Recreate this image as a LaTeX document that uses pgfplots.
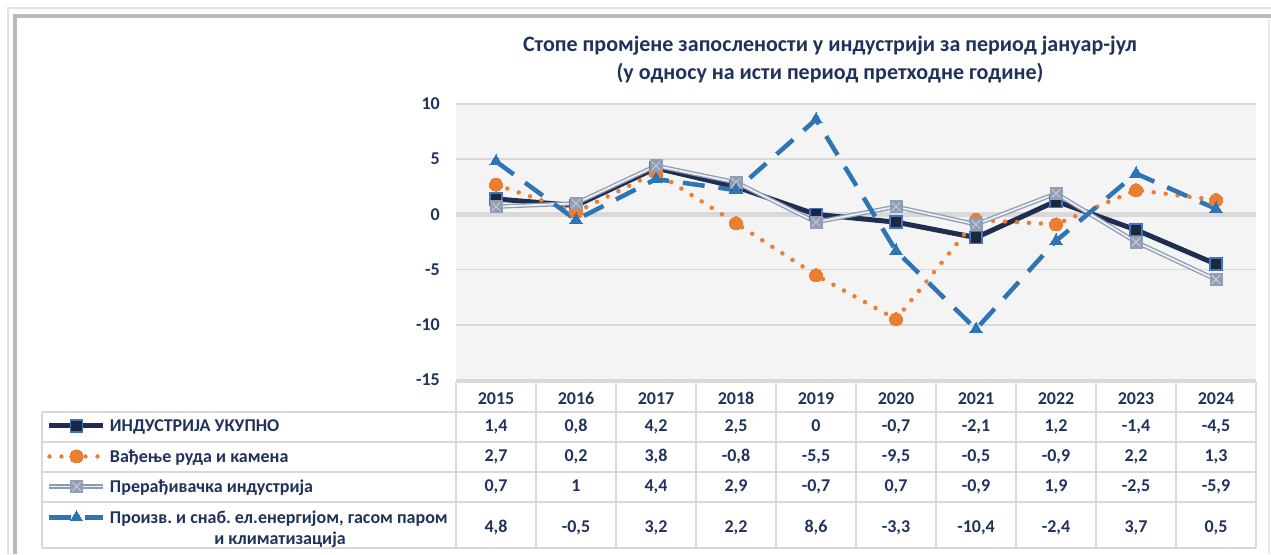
\documentclass[border=0pt]{standalone}
\usepackage{fontspec}
\setmainfont{Carlito}
\usepackage{pgfplots}
\usepackage{pgfplotstable}
\pgfplotsset{compat=1.18}
\frenchspacing

\definecolor{txt}{RGB}{31,50,92}
\definecolor{navy}{RGB}{31,45,80}
\definecolor{navyfill}{RGB}{30,40,60}
\definecolor{mblue}{RGB}{68,114,196}
\definecolor{orng}{RGB}{237,125,49}
\definecolor{gline}{RGB}{140,155,180}
\definecolor{gmark}{RGB}{145,158,180}
\definecolor{eblue}{RGB}{46,117,182}
\definecolor{gridc}{RGB}{217,217,217}
\definecolor{bgc}{RGB}{244,244,244}

% square with a light cross, as in the gray series
\pgfdeclareplotmark{sqx}{%
  \pgfpathrectangle{\pgfqpoint{-\pgfplotmarksize}{-\pgfplotmarksize}}%
    {\pgfqpoint{2\pgfplotmarksize}{2\pgfplotmarksize}}%
  \pgfusepathqfillstroke
  \begin{pgfscope}
    \pgfsetstrokecolor{white!55!gmark}\pgfsetlinewidth{0.8pt}%
    \pgfpathmoveto{\pgfqpoint{-0.7\pgfplotmarksize}{-0.7\pgfplotmarksize}}%
    \pgfpathlineto{\pgfqpoint{0.7\pgfplotmarksize}{0.7\pgfplotmarksize}}%
    \pgfpathmoveto{\pgfqpoint{-0.7\pgfplotmarksize}{0.7\pgfplotmarksize}}%
    \pgfpathlineto{\pgfqpoint{0.7\pgfplotmarksize}{-0.7\pgfplotmarksize}}%
    \pgfusepathqstroke
  \end{pgfscope}}

% x: 0 = 2015 ... 9 = 2024
\pgfplotstableread{
x s1 s2 s3 s4
0 1.4 2.7 0.7 4.8
1 0.8 0.2 1 -0.5
2 4.2 3.8 4.4 3.2
3 2.5 -0.8 2.9 2.2
4 0 -5.5 -0.7 8.6
5 -0.7 -9.5 0.7 -3.3
6 -2.1 -0.5 -0.9 -10.4
7 1.2 -0.9 1.9 -2.4
8 -1.4 2.2 -2.5 3.7
9 -4.5 1.3 -5.9 0.5
}\data

\begin{document}
\begin{tikzpicture}[font=\fontsize{18}{21}\selectfont\bfseries, text=txt]
\useasboundingbox (0,0) rectangle (1271pt,554pt);
\begin{axis}[
  at={(456pt,174pt)}, anchor=south west,
  width=800pt, height=276pt, scale only axis,
  xmin=-0.5, xmax=9.5, ymin=-15, ymax=10,
  axis line style={draw=none},
  major tick length=0pt,
  xtick={0,...,9},
  xticklabels={2015,2016,2017,2018,2019,2020,2021,2022,2023,2024},
  xticklabel style={anchor=base, yshift=-24pt},
  ytick={-15,-10,-5,5,10},
  yticklabels={-15,-10,-5,5,10},
  extra y ticks={0}, extra y tick labels={0},
  extra y tick style={grid style={draw=gridc, line width=5pt}},
  yticklabel style={anchor=east, inner sep=0pt, xshift=-16pt},
  ymajorgrids, grid style={draw=gridc, line width=1.6pt},
  axis background/.style={fill=bgc},
  clip=false,
  legend image code/.code={\draw[mark repeat=2, mark phase=2, yshift=2pt, #1] plot coordinates {(0pt,0pt) (27pt,0pt) (54pt,0pt)};},
  legend style={at={(-0.51125,-0.1449)}, anchor=north west, draw=none, fill=none,
    inner sep=0pt, outer sep=0pt, row sep=14pt,
    nodes={inner sep=0pt, text height=12pt, text depth=4pt},
    /tikz/every odd column/.append style={column sep=4pt}},
  legend cell align=left,
]
\addplot[navy, line width=5pt, mark=square*, mark size=6pt,
  mark options={solid, fill=navyfill, draw=mblue, line width=1.3pt}]
  table[x=x, y=s1]{\data};
\addlegendentry{ИНДУСТРИЈА УКУПНО}
\addplot[orng, line width=4.5pt, line cap=round, dash pattern=on 0pt off 12pt,
  mark=*, mark size=6.5pt, mark options={solid, fill=orng, draw=orng, line width=0pt}]
  table[x=x, y=s2]{\data};
\addlegendentry{Вађење руда и камена}
\addplot[draw=gline, line width=1.3pt, double=white!85!gline, double distance=1.8pt,
  mark=sqx, mark size=6pt, mark options={solid, fill=gmark, draw=gmark, line width=0.8pt}]
  table[x=x, y=s3]{\data};
\addlegendentry{Прерађивачка индустрија}
\addplot[eblue, line width=4.5pt, dash pattern=on 22pt off 14pt,
  mark=triangle*, mark size=7pt, mark options={solid, fill=eblue, draw=eblue, line width=0pt}]
  table[x=x, y=s4]{\data};
\addlegendentry{Произв. и снаб. ел.енергијом, гасом паром}
\end{axis}

\begin{scope}[x=1pt, y=-1pt, shift={(0pt,554pt)}]
  % frame
  \draw[gray!22, line width=2pt] (8,554) -- (8,8.5) -- (1271,8.5);
  \draw[gray!55, line width=3.5pt] (15,554) -- (15,16) -- (1271,16);
  \draw[gray!18, line width=1.5pt] (1269,19) -- (1269,554);
  % table grid
  \begin{scope}[gridc, line width=2pt]
    \draw (456,382) -- (1256,382);
    \foreach \y in {412,442,472,502,548} \draw (42,\y) -- (1256,\y);
    \draw (42,412) -- (42,548);
    \foreach \x in {456,536,...,1256} \draw (\x,382) -- (\x,548);
  \end{scope}
  % table values
  \foreach \c in {0,...,9}{
    \foreach \s/\yy in {s1/432, s2/462, s3/492, s4/532}{
      \pgfplotstablegetelem{\c}{\s}\of\data
      \node[anchor=base, inner sep=0pt] at ({496+80*\c}, \yy)
        {\pgfmathprintnumber[use comma, assume math mode=true]{\pgfplotsretval}};
    }
  }
  \node[anchor=base, inner sep=0pt] at (280,544) {и климатизација};
  % title
  \begin{scope}[font=\fontsize{22}{26}\selectfont\bfseries]
    \node[anchor=base, inner sep=0pt] at (830,51.5)
      {Стопе промјене запослености у индустрији за период јануар-јул};
    \node[anchor=base, inner sep=0pt] at (830,80)
      {(у односу на исти период претходне године)};
  \end{scope}
\end{scope}
\end{tikzpicture}
\end{document}
